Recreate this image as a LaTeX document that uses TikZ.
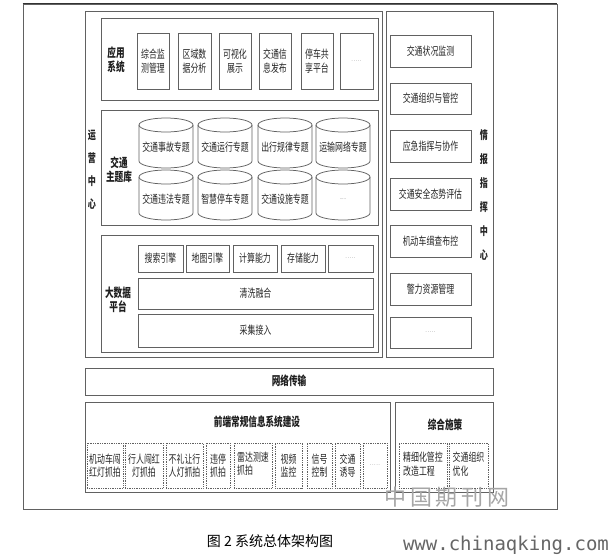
\documentclass[tikz,border=0pt]{standalone}
\usepackage{fontspec}
\newfontfamily\cjk{Noto Sans CJK SC}[FakeStretch=0.7]
\newfontfamily\cjkn{Noto Sans CJK SC}
\newfontfamily\urlfont{DejaVu Sans Mono}
\tikzset{
  ln/.style={draw=black!62, line width=0.75pt},
  txt/.style={font=\cjk\fontsize{11.3}{13.5}\selectfont, align=center, inner sep=0pt, text=black!85},
  bx/.style={ln, rectangle, txt},
  dbx/.style={draw=black!62, densely dotted, line width=0.75pt, rectangle, txt},
  lbl/.style={font=\cjk\bfseries\fontsize{12.3}{14.5}\selectfont, align=center, inner sep=0pt, text=black!88},
  vlbl/.style={font=\cjk\bfseries\fontsize{11.5}{23}\selectfont, align=center, inner sep=0pt, text=black!85},
  dots/.style={font=\fontsize{6}{7}\selectfont, text=black!55}
}
\newcommand\rbox[7]{\node[#1, minimum width={#5-#3}, minimum height={#6-#4}] (#2) at ({(#3+#5)/2},{(#4+#6)/2}) {#7};}
\newcommand\cylnd[4]{% name, cx, cy, text
  \draw[ln, fill=white] ({#2-27},{#3-18}) -- ({#2-27},{#3+18}) arc[start angle=180, end angle=0, x radius=27, y radius=7] -- ({#2+27},{#3-18});
  \draw[ln] (#2,{#3-18}) ellipse[x radius=27, y radius=7];
  \node[txt] (#1) at (#2,{#3+4}) {#4};
}
\begin{document}
\begin{tikzpicture}[x=1pt,y=-1pt]
\useasboundingbox[fill=white] (0,0) rectangle (614,557);
% outer frame
\rbox{ln}{outer}{23}{4}{557}{509}{}
\draw[black!80, line width=1.1pt] (outer.north west) -- (outer.north east);
% operation centre
\rbox{ln}{opc}{85}{11}{382}{357}{}
\node[vlbl] (opclbl) at (92,170) {运\\营\\中\\心};
% intelligence centre
\rbox{ln}{intc}{386}{11}{493}{357}{}
\node[vlbl, font=\cjk\bfseries\fontsize{11.5}{24}\selectfont] (intlbl) at (484,195) {情\\报\\指\\挥\\中\\心};
% application system
\rbox{ln}{app}{101}{18}{378}{100}{}
\node[lbl] (applbl) at (116,60) {应用\\系统};
\rbox{bx}{a1}{137}{33}{169}{89}{综合监\\测管理}
\rbox{bx}{a2}{178}{33}{211}{89}{区域数\\据分析}
\rbox{bx}{a3}{219}{33}{251}{89}{可视化\\展示}
\rbox{bx}{a4}{259}{33}{291}{89}{交通信\\息发布}
\rbox{bx}{a5}{301}{33}{333}{89}{停车共\\享平台}
\rbox{bx}{a6}{340}{33}{373}{89}{}
\node[dots] (a6d) at (a6) {.....};
% theme library
\rbox{ln}{thm}{101}{110}{378}{225}{}
\node[lbl] (thmlbl) at (119,170) {交通\\主题库};
\cylnd{c1}{166}{143}{交通事故专题}
\cylnd{c2}{225}{143}{交通运行专题}
\cylnd{c3}{285}{143}{出行规律专题}
\cylnd{c4}{343}{143}{运输网络专题}
\cylnd{c5}{166}{195}{交通违法专题}
\cylnd{c6}{225}{195}{智慧停车专题}
\cylnd{c7}{285}{195}{交通设施专题}
\cylnd{c8}{343}{195}{\tikz\node[dots]{.....};}
% big data platform
\rbox{ln}{bdp}{101}{235}{378}{352}{}
\node[lbl] (bdplbl) at (118,300) {大数据\\平台};
\rbox{bx}{b1}{138}{245}{183}{272}{搜索引擎}
\rbox{bx}{b2}{186}{245}{229}{272}{地图引擎}
\rbox{bx}{b3}{233}{245}{277}{272}{计算能力}
\rbox{bx}{b4}{281}{245}{325}{272}{存储能力}
\rbox{bx}{b5}{328}{245}{373}{272}{}
\node[dots] (b5d) at (b5) {.....};
\rbox{bx}{b6}{138}{278}{373}{309}{清洗融合}
\rbox{bx}{b7}{138}{314}{373}{347}{采集接入}
% right column
\rbox{bx}{r1}{390}{35}{471}{67}{交通状况监测}
\rbox{bx}{r2}{390}{83}{471}{114}{交通组织与管控}
\rbox{bx}{r3}{390}{130}{471}{162}{应急指挥与协作}
\rbox{bx}{r4}{390}{178}{471}{210}{交通安全态势评估}
\rbox{bx}{r5}{390}{225}{471}{257}{机动车缉查布控}
\rbox{bx}{r6}{390}{273}{471}{305}{警力资源管理}
\rbox{bx}{r7}{390}{317}{471}{348}{}
\node[dots] (r7d) at (r7) {.....};
% network
\rbox{ln}{net}{85}{368}{493}{395}{}
\node[lbl] (netlbl) at (289,381) {网络传输};
% front end
\rbox{ln}{fe}{85}{402}{390}{492}{}
\node[lbl] (felbl) at (257,422) {前端常规信息系统建设};
\rbox{dbx}{f1}{87}{443}{123}{488}{机动车闯\\红灯抓拍}
\rbox{dbx}{f2}{125}{443}{163}{488}{行人闯红\\灯抓拍}
\rbox{dbx}{f3}{166}{443}{203}{488}{不礼让行\\人灯抓拍}
\rbox{dbx}{f4}{206}{443}{230}{488}{违停\\抓拍}
\rbox{dbx}{f5}{234}{443}{272}{488}{\begin{tabular}{@{}l@{}}雷达测速\\抓拍\end{tabular}}
\rbox{dbx}{f6}{275}{443}{302}{488}{视频\\监控}
\rbox{dbx}{f7}{307}{443}{332}{488}{信号\\控制}
\rbox{dbx}{f8}{335}{443}{360}{488}{交通\\诱导}
\rbox{dbx}{f9}{363}{443}{387}{488}{}
\node[dots] (f9d) at (f9) {.....};
% comprehensive measures
\rbox{ln}{cm}{395}{402}{493}{492}{}
\node[lbl] (cmlbl) at (445,425) {综合施策};
\rbox{dbx}{g1}{399}{443}{447}{488}{\begin{tabular}{@{}l@{}}精细化管控\\改造工程\end{tabular}}
\rbox{dbx}{g2}{449}{443}{488}{488}{\begin{tabular}{@{}l@{}}交通组织\\优化\end{tabular}}
% watermark and caption
\node[font=\cjkn\fontsize{22}{22}\selectfont, text=black!35, inner sep=0pt] (wm) at (447,497) {中\,国\,期\,刊\,网};
\node[font=\cjkn\fontsize{14}{16}\selectfont, inner sep=0pt] (cap) at (270,541) {图 2 系统总体架构图};
\node[font=\urlfont\fontsize{19}{20}\selectfont, text=black!60, inner sep=0pt] (url) at (506,545) {www.chinaqking.com};
\end{tikzpicture}
\end{document}
